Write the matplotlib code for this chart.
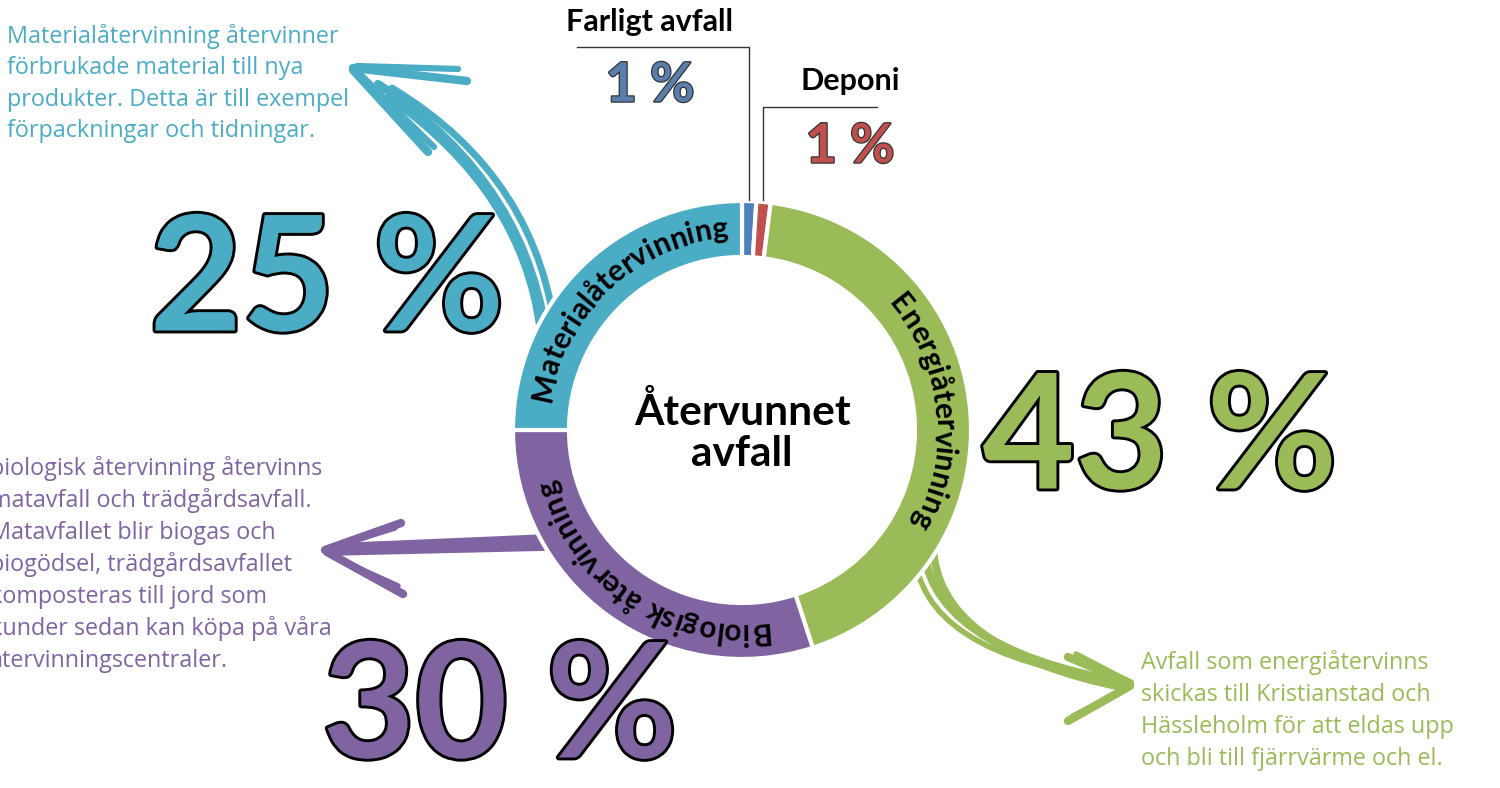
import matplotlib
matplotlib.use('Agg')
import numpy as np
import matplotlib.pyplot as plt
from matplotlib import patheffects
from matplotlib.path import Path
from matplotlib.patches import PathPatch
from matplotlib.font_manager import FontProperties

W, H = 1500, 788
FONT = 'Lato'
NOTE_FONT = 'Open Sans'

# data
categories = ['Farligt avfall', 'Deponi', 'Energiåtervinning',
              'Biologisk återvinning', 'Materialåtervinning']
shares = [1, 1, 43, 30, 25]
colors = ['#4f81bd', '#c0504d', '#9bbb59', '#8064a2', '#4bacc6']
pct_labels = ['1 %', '1 %', '43 %', '30 %', '25 %']
center_title = 'Återvunnet\navfall'

note_material = ['Materialåtervinning återvinner',
                 'förbrukade material till nya',
                 'produkter. Detta är till exempel',
                 'förpackningar och tidningar.']
note_bio = ['biologisk återvinning återvinns',
            'matavfall och trädgårdsavfall.',
            'Matavfallet blir biogas och',
            'biogödsel, trädgårdsavfallet',
            'komposteras till jord som',
            'kunder sedan kan köpa på våra',
            'återvinningscentraler.']
note_energi = ['Avfall som energiåtervinns',
               'skickas till Kristianstad och',
               'Hässleholm för att eldas upp',
               'och bli till fjärrvärme och el.']

fig = plt.figure(figsize=(15, 7.88), dpi=100)
ax = fig.add_axes([0, 0, 1, 1])

cx, cy = 742, H - 430
gap = 3
ax.pie(shares, colors=colors, startangle=90, counterclock=False,
       center=(cx, cy), radius=229, frame=True,
       wedgeprops=dict(width=56, edgecolor='white', linewidth=gap, zorder=2))
ax.set_xlim(0, W)
ax.set_ylim(0, H)
ax.set_aspect('equal')
ax.axis('off')


def stroke(p0, p1, p2=None, color='k', lw=4.5):
    # hand drawn looking stroke, straight or quadratic curve (image coords)
    if p2 is None:
        verts = [(p0[0], H - p0[1]), (p1[0], H - p1[1])]
        codes = [Path.MOVETO, Path.LINETO]
    else:
        verts = [(p0[0], H - p0[1]), (p1[0], H - p1[1]), (p2[0], H - p2[1])]
        codes = [Path.MOVETO, Path.CURVE3, Path.CURVE3]
    ax.add_patch(PathPatch(Path(verts, codes), fill=False, edgecolor=color,
                           lw=lw, capstyle='round', joinstyle='round', zorder=1))


# teal arrow
teal = colors[4]
stroke((548, 352), (532, 185), (378, 84), teal, lw=6)
stroke((557, 345), (541, 178), (392, 88), teal, lw=5)
stroke((540, 330), (523, 192), (388, 97), teal, lw=5)
stroke((353, 68), (467, 81), color=teal, lw=6)
stroke((357, 66), (458, 69), color=teal, lw=4.5)
stroke((353, 70), (428, 152), color=teal, lw=6)
stroke((360, 74), (434, 147), color=teal, lw=4.5)

# purple arrow
purple = colors[3]
stroke((592, 536), (335, 547), color=purple, lw=5.5)
stroke((592, 546), (330, 552), color=purple, lw=5.5)
stroke((570, 541), (350, 545), color=purple, lw=4)
stroke((325, 550), (401, 523), color=purple, lw=6)
stroke((330, 548), (395, 528), color=purple, lw=4)
stroke((327, 552), (403, 594), color=purple, lw=6)
stroke((332, 556), (398, 586), color=purple, lw=4)

# green arrow
green = colors[2]
stroke((923, 538), (924, 648), (1128, 683), green, lw=6)
stroke((933, 545), (936, 650), (1125, 688), green, lw=5.5)
stroke((914, 548), (918, 655), (1118, 680), green, lw=4)
stroke((1130, 683), (1068, 657), color=green, lw=6)
stroke((1126, 680), (1076, 654), color=green, lw=4)
stroke((1130, 686), (1068, 721), color=green, lw=6)
stroke((1126, 689), (1073, 716), color=green, lw=4)

# leader lines for the small slices
ax.plot([577, 749, 749], [H - 47, H - 47, H - 200], color='#333333', lw=1, zorder=3)
ax.plot([877, 763, 763], [H - 107, H - 107, H - 200], color='#333333', lw=1, zorder=3)


def arc_text(text, mid_deg, radius, size):
    renderer = fig.canvas.get_renderer()
    fp = FontProperties(family=FONT, weight='bold', size=size)
    total = renderer.get_text_width_height_descent(text, fp, ismath=False)[0]
    start = np.radians(mid_deg) + (total / 2) / radius
    for i, ch in enumerate(text):
        if ch == ' ':
            continue
        right = renderer.get_text_width_height_descent(text[:i + 1], fp, ismath=False)[0]
        cw = renderer.get_text_width_height_descent(ch, fp, ismath=False)[0]
        s = right - cw / 2
        th = start - s / radius
        ax.text(cx + radius * np.cos(th), cy + radius * np.sin(th), ch,
                rotation=np.degrees(th) - 90, rotation_mode='anchor',
                ha='center', va='baseline', fontproperties=fp,
                color='black', zorder=4)


arc_text(categories[4], 133, 193, 21.5)
arc_text(categories[2], 6, 193, 21.5)
arc_text(categories[3], -124, 193, 21.5)

ax.text(cx, cy - 2, center_title, ha='center', va='center', family=FONT,
        weight='bold', fontsize=30.5, linespacing=1.1, color='black', zorder=4)

# slice names and small percentages
ax.text(650, H - 22, categories[0], ha='center', va='center', family=FONT,
        weight='bold', fontsize=22, color='black')
ax.text(850, H - 81, categories[1], ha='center', va='center', family=FONT,
        weight='bold', fontsize=22, color='black')
thin = [patheffects.Stroke(linewidth=1.8, foreground='#333333'), patheffects.Normal()]
ax.text(650, H - 86, pct_labels[0], ha='center', va='center', family=FONT,
        weight='bold', fontsize=39, color='#5b7fad', path_effects=thin)
ax.text(850, H - 147, pct_labels[1], ha='center', va='center', family=FONT,
        weight='bold', fontsize=39, color=colors[1], path_effects=thin)

# big percentages
thick = [patheffects.Stroke(linewidth=4.2, foreground='black'), patheffects.Normal()]
big = dict(ha='center', va='center', family=FONT, weight='bold', fontsize=115,
           path_effects=thick, zorder=5)
ax.text(327, H - 285, pct_labels[4], color=teal, **big)
ax.text(1160, H - 443, pct_labels[2], color=green, **big)
ax.text(500, H - 712, pct_labels[3], color=purple, **big)

# explanatory notes
for i, line in enumerate(note_material):
    ax.text(7, H - (43 + 31.3 * i), line, ha='left', va='baseline',
            family=NOTE_FONT, fontsize=16.8, color=teal)
for i, line in enumerate(note_bio):
    ax.text(-10, H - (475 + 32 * i), line, ha='left', va='baseline',
            family=NOTE_FONT, fontsize=16.8, color=purple)
for i, line in enumerate(note_energi):
    ax.text(1141, H - (669 + 32 * i), line, ha='left', va='baseline',
            family=NOTE_FONT, fontsize=16.8, color=green)

fig.savefig('out.png', dpi=100)
